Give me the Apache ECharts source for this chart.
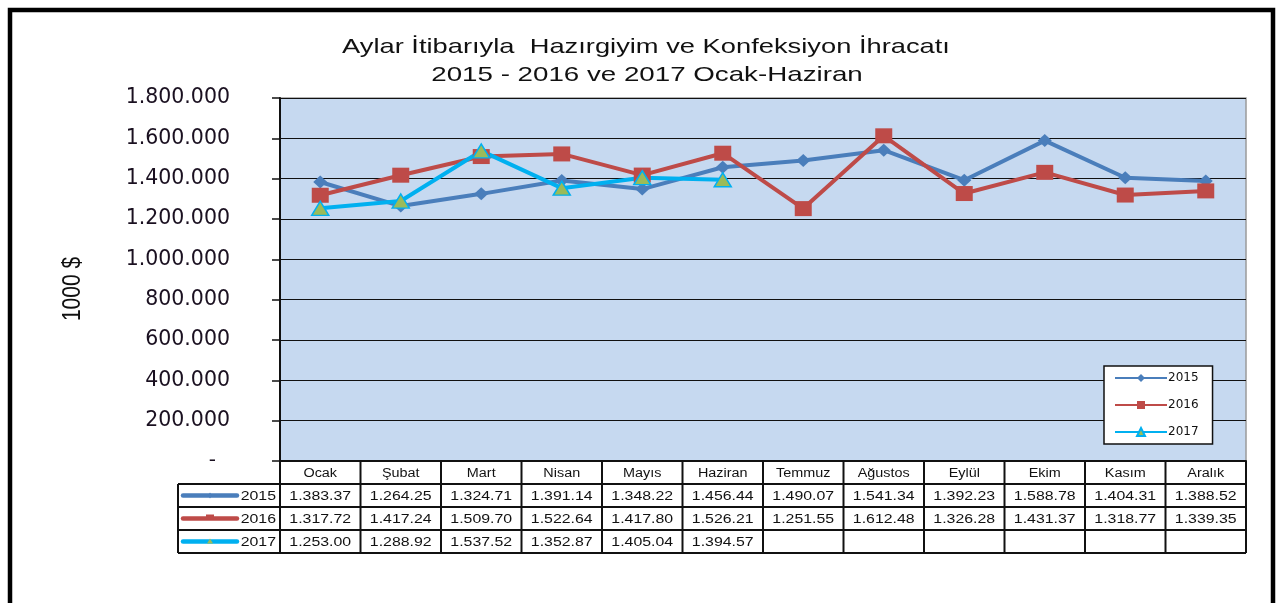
<!DOCTYPE html>
<html>
<head>
<meta charset="utf-8">
<script src="https://cdn.jsdelivr.net/npm/echarts@6/dist/echarts.min.js"></script>
<style>
  html, body { margin: 0; padding: 0; background: #fff; }
  #chart { width: 1280px; height: 603px; }
</style>
</head>
<body>
<div id="chart"></div>
<script>
// aylar (kategori)
const months = ['Ocak', 'Şubat', 'Mart', 'Nisan', 'Mayıs', 'Haziran', 'Temmuz', 'Ağustos', 'Eylül', 'Ekim', 'Kasım', 'Aralık'];
const years = ['2015', '2016', '2017'];
// değerler: bin $ (tabloda yazıldığı gibi, milyon cinsinden)
const data2015 = [1383.37, 1264.25, 1324.71, 1391.14, 1348.22, 1456.44, 1490.07, 1541.34, 1392.23, 1588.78, 1404.31, 1388.52];
const data2016 = [1317.72, 1417.24, 1509.70, 1522.64, 1417.80, 1526.21, 1251.55, 1612.48, 1326.28, 1431.37, 1318.77, 1339.35];
const data2017 = [1253.00, 1288.92, 1537.52, 1352.87, 1405.04, 1394.57];
const yTicks = [0, 200000, 400000, 600000, 800000, 1000000, 1200000, 1400000, 1600000, 1800000];
const titleLines = ['Aylar İtibarıyla  Hazırgiyim ve Konfeksiyon İhracatı', '2015 - 2016 ve 2017 Ocak-Haziran'];

const colors = ['#4a7ebb', '#be4b48', '#00b0f0'];
const FONT = '"Liberation Sans", Arial, sans-serif';
const WIDE = '"DejaVu Sans", sans-serif';
const SX = 1.27; // resim yatayda gerilmiş

// plot alanı
const G = { left: 280, right: 1246, top: 98, bottom: 461 };
const cw = (G.right - G.left) / months.length;
const rowY = [461, 484, 507, 530, 553];
const keyLeft = 178;

function dots(n) {
  return String(n).replace(/\B(?=(\d{3})+(?!\d))/g, '.');
}
// tablo yazımı: 1383.37 -> "1.383.37"
function cellText(v) {
  return v.toFixed(2).replace(/^(\d)(\d{3})\./, '$1.$2.');
}
function txt(x, y, s, align, size, extra) {
  return Object.assign({
    type: 'text', silent: true, x: x, y: y, scaleX: SX,
    style: { x: 0, y: 0, text: s, align: align, verticalAlign: 'middle', font: size + 'px ' + FONT, fill: '#111' }
  }, extra || {});
}

const rows = [data2015, data2016, data2017];
const graphic = [];

// dış çerçeve
graphic.push({
  type: 'rect', silent: true,
  shape: { x: 10, y: 10, width: 1263, height: 620 },
  style: { fill: 'none', stroke: '#000', lineWidth: 4.5 }
});

// başlık
graphic.push(txt(646, 47, titleLines[0], 'center', 21, { scaleX: 1.3 }));
graphic.push(txt(647, 75, titleLines[1], 'center', 21, { scaleX: 1.32 }));

// y ekseni adı
graphic.push({
  type: 'text', silent: true, x: 73, y: 289, rotation: Math.PI / 2, scaleY: 1.25,
  style: { x: 0, y: 0, text: '1000 $', align: 'center', verticalAlign: 'middle', font: '21px ' + FONT, fill: '#111' }
});

// tablo çizgileri
for (let i = 1; i < rowY.length; i++) {
  graphic.push({ type: 'line', silent: true,
    shape: { x1: keyLeft, y1: rowY[i], x2: G.right, y2: rowY[i] },
    style: { stroke: '#111', lineWidth: 2 } });
}
graphic.push({ type: 'line', silent: true,
  shape: { x1: keyLeft, y1: rowY[1], x2: keyLeft, y2: rowY[4] },
  style: { stroke: '#111', lineWidth: 2 } });
for (let i = 0; i <= months.length; i++) {
  const x = G.left + i * cw;
  graphic.push({ type: 'line', silent: true,
    shape: { x1: x, y1: rowY[0], x2: x, y2: rowY[4] },
    style: { stroke: '#111', lineWidth: 2 } });
}
// başlık satırı
months.forEach((m, i) => {
  graphic.push(txt(G.left + (i + 0.5) * cw, (rowY[0] + rowY[1]) / 2 + 1, m, 'center', 12, { scaleX: 1.2 }));
});
// değer satırları
rows.forEach((arr, r) => {
  const yc = (rowY[r + 1] + rowY[r + 2]) / 2 + 1;
  arr.forEach((v, i) => {
    graphic.push(txt(G.left + (i + 0.5) * cw, yc, cellText(v), 'center', 12.5));
  });
  // anahtar
  graphic.push({ type: 'line', silent: true,
    shape: { x1: keyLeft + 5, y1: yc - 1, x2: keyLeft + 59, y2: yc - 1 },
    style: { stroke: colors[r], lineWidth: 4.5, lineCap: 'round' } });
  const mx = keyLeft + 32, my = yc - 1;
  const mk = [
    [[mx, my - 3], [mx + 2, my], [mx, my + 3], [mx - 2, my]],
    [[mx - 4, my - 4], [mx + 4, my - 4], [mx + 4, my + 1], [mx - 4, my + 1]],
    [[mx, my - 3], [mx + 3, my + 2], [mx - 3, my + 2]]
  ][r];
  graphic.push({ type: 'polygon', silent: true, shape: { points: mk },
    style: { fill: r === 2 ? '#9bbb59' : colors[r] } });
  graphic.push(txt(G.left - 4, yc, years[r], 'right', 12.5));
});

const chart = echarts.init(document.getElementById('chart'));

chart.setOption({
  animation: false,
  backgroundColor: '#fff',
  legend: {
    orient: 'vertical',
    left: 1104,
    top: 366,
    itemWidth: 52,
    itemHeight: 10,
    itemGap: 15,
    padding: [6, 14, 6, 10],
    backgroundColor: '#fff',
    borderColor: '#111',
    borderWidth: 1.5,
    textStyle: { fontFamily: WIDE, fontSize: 12, color: '#111', padding: [0, 0, 0, -4] },
    data: years
  },
  grid: {
    left: G.left, right: 1280 - G.right, top: G.top, bottom: 603 - G.bottom,
    show: true, backgroundColor: '#c6d9f0', borderColor: '#9a9a9a', borderWidth: 1.5
  },
  xAxis: {
    type: 'category',
    data: months,
    boundaryGap: true,
    axisLine: { lineStyle: { color: '#111', width: 2 } },
    axisTick: { show: false },
    axisLabel: { show: false },
    splitLine: { show: false }
  },
  yAxis: {
    type: 'value',
    min: yTicks[0],
    max: yTicks[yTicks.length - 1],
    interval: 200000,
    axisLine: { show: true, lineStyle: { color: '#111', width: 2 } },
    axisTick: { show: true, length: 8, lineStyle: { color: '#111', width: 1.5 } },
    axisLabel: {
      margin: 50,
      fontFamily: WIDE, fontSize: 20.5, color: '#1a1020',
      formatter: v => (v === 0 ? '{d|-}' : dots(v)),
      rich: { d: { fontFamily: WIDE, fontSize: 20, color: '#1a1020', padding: [0, 14, 0, 0] } }
    },
    splitLine: { show: true, lineStyle: { color: '#111', width: 1.2 } }
  },
  series: [
    {
      name: '2015', type: 'line',
      data: data2015.map(v => v * 1000),
      symbol: 'diamond', symbolSize: [14, 13],
      lineStyle: { color: colors[0], width: 4 },
      itemStyle: { color: colors[0] }
    },
    {
      name: '2016', type: 'line',
      data: data2016.map(v => v * 1000),
      symbol: 'rect', symbolSize: [17, 15],
      lineStyle: { color: colors[1], width: 4 },
      itemStyle: { color: colors[1] }
    },
    {
      name: '2017', type: 'line',
      data: data2017.map(v => v * 1000),
      symbol: 'triangle', symbolSize: [17, 14],
      lineStyle: { color: colors[2], width: 4 },
      itemStyle: { color: '#9bbb59', borderColor: colors[2], borderWidth: 1.5 }
    }
  ],
  graphic: graphic
});
</script>
</body>
</html>
